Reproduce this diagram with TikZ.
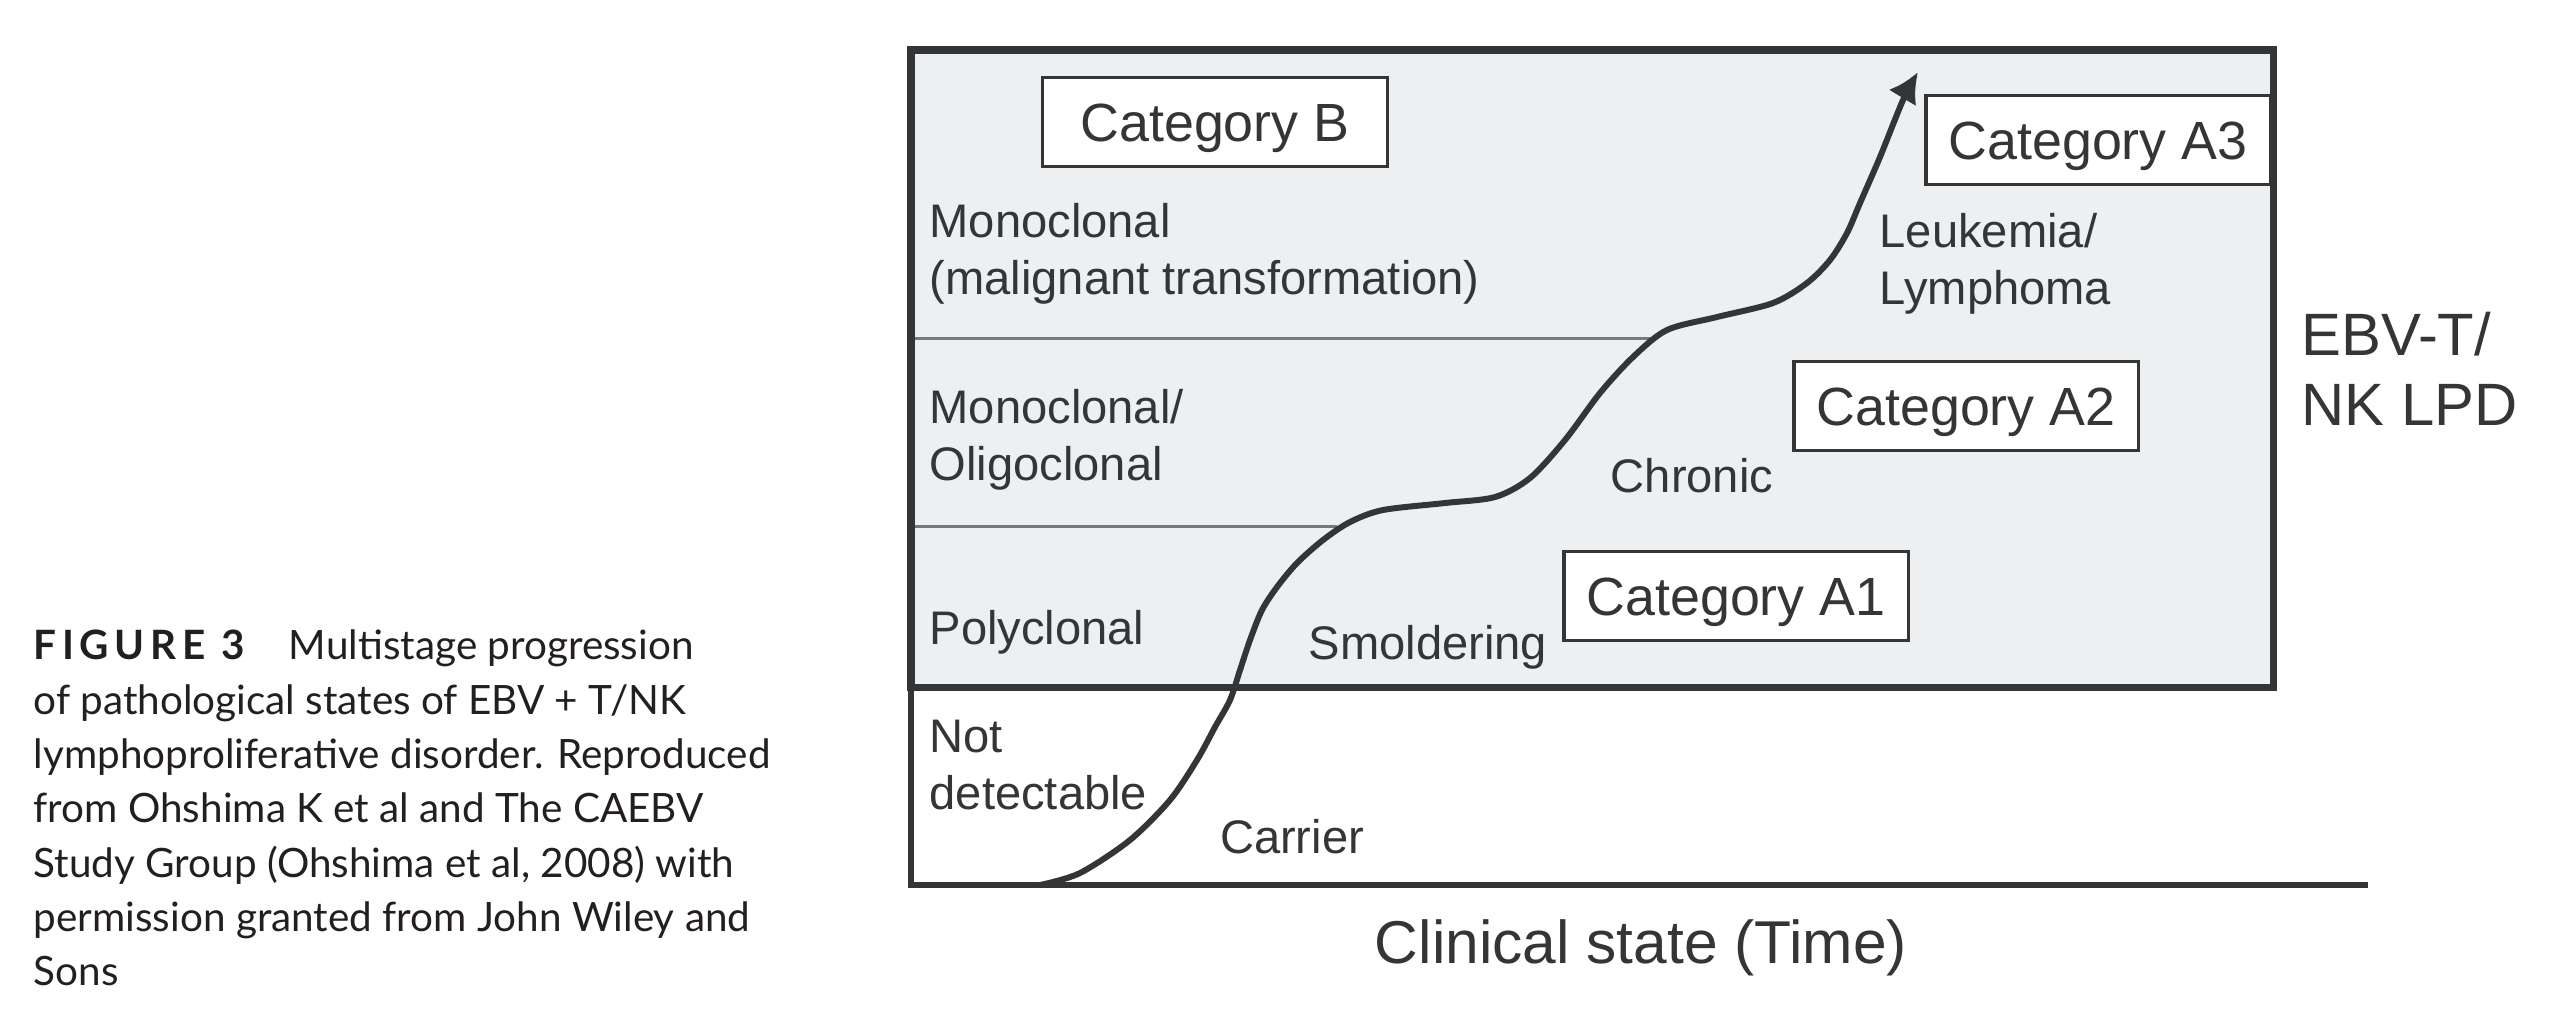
\documentclass[tikz,border=0pt]{standalone}
\usepackage{fontspec}
\setmainfont{Liberation Sans}
\newfontfamily\capfont{Lato}
\usetikzlibrary{arrows.meta}

\definecolor{ink}{HTML}{333537}
\definecolor{panel}{HTML}{EEEFF1}
\definecolor{rule}{HTML}{737A82}
\definecolor{captext}{HTML}{231F20}

\begin{document}
\begin{tikzpicture}[x=0.01cm, y=-0.01cm,
    every node/.style={text=ink},
    catbox/.style={draw=ink, line width=0.9pt, fill=white, inner sep=0pt,
      minimum width=3.44cm, minimum height=0.89cm,
      text height=11pt, text depth=0pt,
      font=\fontsize{15.3}{18}\selectfont},
    lab/.style={align=left, inner sep=0pt, font=\fontsize{13.4}{16.2}\selectfont}]
  \useasboundingbox (0,0) rectangle (2555,1029);

  \fill[panel] (911,50) rectangle (2273,687);
  \draw[rule, line width=0.85pt] (911,338) -- (1650,338);
  \draw[rule, line width=0.85pt] (911,526) -- (1337,526);
  \draw[ink, line width=2pt] (911,50) rectangle (2273,687);
  \draw[ink, line width=1.8pt] (911,687) -- (911,885) -- (2368,885);

  \node[lab, anchor=west] (mono) at (929,254) {Monoclonal\\(malignant transformation)};
  \node[lab, anchor=west] (oligo) at (929,440) {Monoclonal/\\Oligoclonal};
  \node[lab, anchor=west] (poly) at (929,632) {Polyclonal};
  \node[lab, anchor=west] (notdet) at (929,765) {Not\\detectable};
  \node[lab] (carrier) at (1292,837) {Carrier};
  \node[lab] (smold) at (1428,647) {Smoldering};
  \node[lab] (chronic) at (1692,476) {Chronic};
  \node[lab, anchor=west] (leuk) at (1879,264) {Leukemia/\\Lymphoma};

  \node[catbox] (catB) at (1215,122) {Category B};
  \node[catbox] (catAthree) at (2098,140) {Category A3};
  \node[catbox] (catAtwo) at (1966,406) {Category A2};
  \node[catbox] (catAone) at (1736,596) {Category A1};

  \node[align=left, anchor=west, inner sep=0pt,
    font=\fontsize{17}{19.9}\selectfont] (lpd) at (2301,369) {EBV-T/\\NK LPD};
  \node[inner sep=0pt, font=\fontsize{17.2}{20}\selectfont] (clin) at (1641,948) {Clinical state (Time)};

  \draw[ink, line width=1.7pt, -{Latex[length=0.3cm, width=0.32cm]}]
    plot[smooth, tension=0.5] coordinates {(1040,885) (1080,873) (1130,840)
      (1170,800) (1197,760) (1215,727) (1230,700) (1240,670) (1250,640)
      (1262,610) (1277,587) (1297,563) (1323,540) (1350,522) (1383,510)
      (1445,503) (1495,497) (1530,478) (1565,440) (1600,393) (1633,357)
      (1667,330) (1717,317) (1773,303) (1807,283) (1830,260) (1847,233)
      (1860,203) (1880,157) (1903,100) (1918,72)};

  \node[anchor=west, align=left, inner sep=0pt, text=captext,
    font=\capfont\fontsize{11.5}{15.45}\selectfont] (caption) at (33,808)
    {{\bfseries\addfontfeature{LetterSpace=14}FIGURE 3}\hspace{1.1em}Multistage progression\\
     of pathological states of EBV + T/NK\\
     lymphoproliferative disorder. Reproduced\\
     from Ohshima K et al and The CAEBV\\
     Study Group (Ohshima et al, 2008) with\\
     permission granted from John Wiley and\\
     Sons};
\end{tikzpicture}
\end{document}
